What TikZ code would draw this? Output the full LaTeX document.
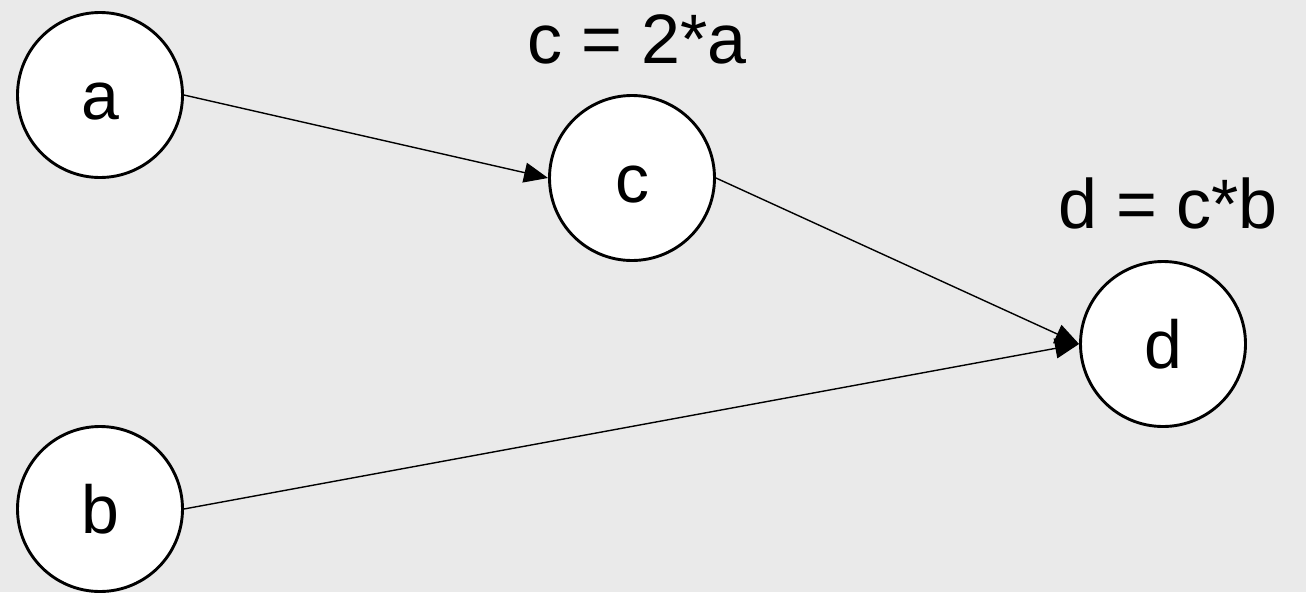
\documentclass[tikz,border=0pt]{standalone}
\usepackage{fontspec}
\setmainfont{Liberation Sans}
\usetikzlibrary{arrows.meta}
\definecolor{bg}{RGB}{234,234,234}
\begin{document}
\begin{tikzpicture}[x=1pt,y=-1pt,
  circ/.style={circle,draw,line width=2.9pt,fill=white,minimum size=165pt,inner sep=0pt,
    font=\fontsize{68}{80}\selectfont,text height=49pt,text depth=0pt},
  eq/.style={font=\fontsize{70}{84}\selectfont,anchor=base,inner sep=0pt},
  conn/.style={line width=1.4pt,-{Triangle[length=24pt,width=20pt]}}]
\fill[bg] (0,0) rectangle (1306,592);
\useasboundingbox (0,0) rectangle (1306,592);
\node[circ] (a) at (100,95) {a};
\node[circ] (c) at (632,178) {c};
\node[circ] (d) at (1163,344) {d};
\node[circ] (b) at (100,509) {b};
\node[eq] (lc) at (637,63) {c = 2*a};
\node[eq] (ld) at (1168,228) {d = c*b};
\draw[conn] (a.east) -- (c.west);
\draw[conn] (c.east) -- (d.west);
\draw[conn] (b.east) -- (d.west);
\end{tikzpicture}
\end{document}
